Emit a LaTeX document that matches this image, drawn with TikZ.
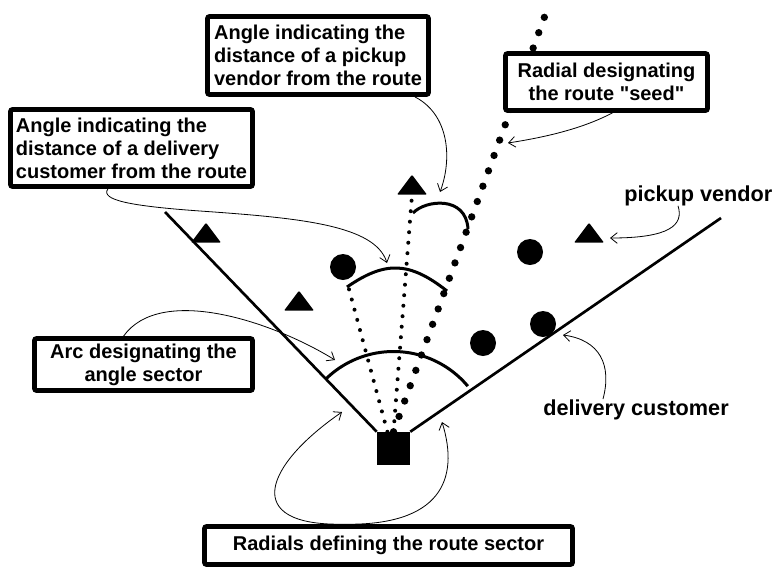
\documentclass[tikz,border=0pt]{standalone}
\usepackage{fontspec}
\setmainfont{Liberation Sans}
\usetikzlibrary{shapes.geometric,arrows.meta,calc}

\tikzset{
  depot/.style={rectangle, fill, inner sep=0pt, minimum size=24.75pt},
  cust/.style={circle, fill, inner sep=0pt, minimum size=19.5pt},
  vend/.style={isosceles triangle, isosceles triangle stretches, shape border rotate=90,
    fill, inner sep=0pt, minimum width=22.5pt, minimum height=15pt, rounded corners=0.8pt, anchor=south},
  radial/.style={line width=2pt},
  bigdots/.style={line width=5.5pt, line cap=round, dash pattern=on 0pt off 12.25pt},
  smalldots/.style={line width=3pt, line cap=round, dash pattern=on 0pt off 7.9pt},
  sector/.style={line width=2.25pt},
  callout/.style={draw, line width=3.5pt, fill=white, inner sep=3pt, rounded corners=1.5pt},
  note/.style={inner sep=0pt, font=\bfseries\fontsize{16.25}{18}\selectfont},
  conn/.style={line width=0.6pt, -{Straight Barb[length=5pt,width=8pt]}},
}

\begin{document}
\begin{tikzpicture}[x=0.75pt, y=-0.75pt, font=\bfseries\fontsize{15}{17.25}\selectfont]
  \useasboundingbox (0,0) rectangle (778,569);
  % Define nodes
  \node[depot] (depot) at (393.5,448.5) {};
  \node[cust] (c1) at (343,267) {};
  \node[cust] (c2) at (530,252) {};
  \node[cust] (c3) at (483,343) {};
  \node[cust] (c4) at (543,324) {};
  \node[vend] (v1) at (206,243) {};
  \node[vend] (v2) at (299,311) {};
  \node[vend] (v3) at (412,195) {};
  \node[vend] (v4) at (589,243) {};
  \coordinate (lend) at (165,212);
  \coordinate (rend) at (721,218);
  \coordinate (seedend) at (547,10);
  % Radials and the route
  \draw[radial] (depot.north west) -- (lend);
  \draw[radial] (depot.north east) -- (rend);
  \draw[bigdots] (depot.north) -- (seedend);
  \draw[smalldots] (depot.north) -- (v3.south);
  \draw[smalldots] (depot.110) -- (c1);
  % Angles
  \draw[sector] ($(depot.center)+(-134:97)$) arc[start angle=-134, end angle=-40, radius=97];
  \draw[sector] (347,287) .. controls (385,261) and (409,261) .. (447,291);
  \draw[sector] (413,213) .. controls (425,200) and (466,195) .. (468,229);
  % Callouts
  \node[callout, align=left, minimum width=181.5pt, minimum height=57.75pt] (dcbox) at (131.5,148)
    {Angle indicating the\\distance of a delivery\\customer from the route};
  \node[callout, align=left, minimum width=165.75pt, minimum height=58.5pt] (pvbox) at (318,55.5)
    {Angle indicating the\\distance of a pickup\\vendor from the route};
  \node[callout, align=center, minimum width=151.5pt, minimum height=42.75pt] (seedbox) at (606.5,82)
    {Radial designating\\the route \textquotedbl seed\textquotedbl};
  \node[callout, align=center, minimum width=163.5pt, minimum height=39pt] (arcbox) at (143.5,364.5)
    {Arc designating the\\angle sector};
  \node[callout, minimum width=276pt, minimum height=28.5pt] (radbox) at (388.5,545.5)
    {Radials defining the route sector};
  \node[note, anchor=base west] (pvlab) at (624,201) {pickup vendor};
  \node[note, anchor=base west] (dclab) at (543,415) {delivery customer};
  % Connect the labels
  \coordinate (dctip) at (387,263);
  \coordinate (pvtip) at (440,192);
  \coordinate (seedtip) at (508,143);
  \coordinate (vtip) at (610,238);
  \coordinate (ctip) at (563,335);
  \coordinate (arctip) at (335,360);
  \coordinate (ltip) at (342,412);
  \coordinate (rtip) at (442,422);
  \draw[conn] (dcbox.240) .. controls (100,200) and (130,206) .. (200,211)
    .. controls (300,218) and (375,225) .. (dctip);
  \draw[conn] ($(pvbox.south east)+(-16,0)$) .. controls (450,115) and (452,160) .. (pvtip);
  \draw[conn] ($(seedbox.south)+(6,0)$) .. controls (580,130) and (540,138) .. (seedtip);
  \draw[conn] ($(pvlab.south west)+(54,0)$) .. controls (684,225) and (670,238) .. (vtip);
  \draw[conn] ($(dclab.north west)+(60,0)$) .. controls (612,365) and (600,340) .. (ctip);
  \draw[conn] ($(arcbox.north)+(-20,0)$) .. controls (160,285) and (270,320) .. (arctip);
  \draw[conn] ($(radbox.north)+(-45,0)$) .. controls (240,526) and (265,465) .. (ltip);
  \draw[conn] ($(radbox.north)+(-45,0)$) .. controls (440,526) and (460,480) .. (rtip);
\end{tikzpicture}
\end{document}
